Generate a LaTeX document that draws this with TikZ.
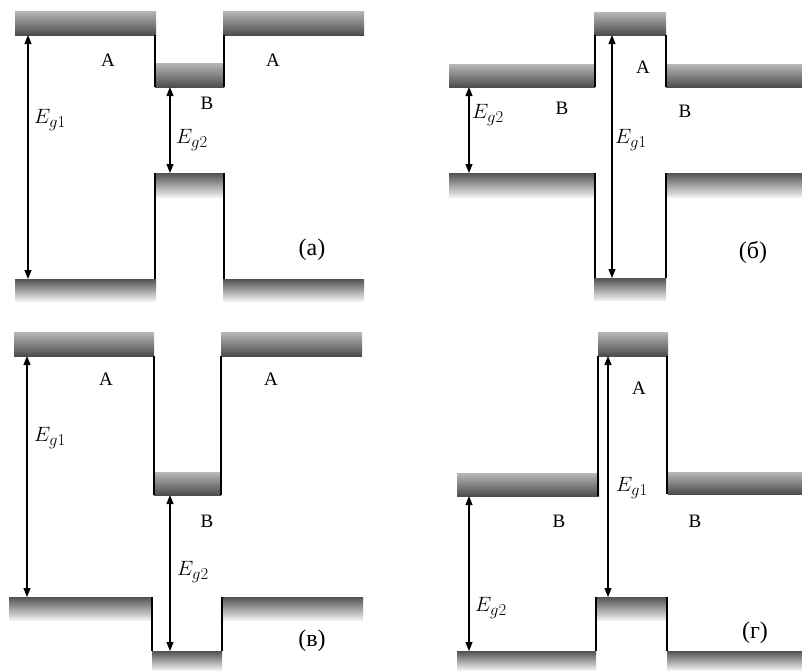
\documentclass[tikz,border=0pt]{standalone}
\usepackage{fontspec}
\setmainfont{Liberation Serif}
\usepackage{graphicx}
\usetikzlibrary{arrows.meta}
\newcommand{\egap}[1]{\scalebox{1.2}{$E_{\hbox{\scalebox{0.8}{$g#1$}}}$}}
\tikzset{
  cb/.style={top color=black!28, bottom color=black!70},
  vb/.style={top color=black!68, bottom color=black!6},
  wall/.style={line width=2pt},
  arr/.style={line width=1.1pt,{Triangle[length=9pt,width=7pt]}-{Triangle[length=9pt,width=7pt]}},
  lay/.style={inner sep=0pt,font=\fontsize{19}{21}\selectfont},
  eg/.style={inner sep=0pt,anchor=west,font=\fontsize{17.28}{20}\selectfont},
  tag/.style={inner sep=0pt,font=\fontsize{24}{26}\selectfont}
}
\begin{document}
\begin{tikzpicture}[x=1pt,y=-1pt]
\useasboundingbox[fill=white] (0,0) rectangle (802,670);
% ---------- (a)
\fill[cb] (15,11) rectangle (156,35);
\fill[cb] (223,11) rectangle (364,35);
\fill[cb] (155,63) rectangle (224,87);
\fill[vb] (155,173) rectangle (224,197);
\fill[vb] (15,279) rectangle (156,301);
\fill[vb] (223,279) rectangle (364,301);
\draw[wall] (155,35) -- (155,87) (224,35) -- (224,87);
\draw[wall] (155,173) -- (155,279) (224,173) -- (224,279);
\coordinate (a1t) at (28,35); \coordinate (a1b) at (28,279);
\coordinate (a2t) at (170,87); \coordinate (a2b) at (170,173);
\draw[arr] (a1t) -- (a1b);
\draw[arr] (a2t) -- (a2b);
\node[lay] (aA1) at (108,60) {A};
\node[lay] (aA2) at (273,60) {A};
\node[lay] (aB) at (207,103) {B};
\node[eg] (aE1) at (34,120) {\egap{1}};
\node[eg] (aE2) at (176,140) {\egap{2}};
\node[tag] (aT) at (312,250) {(а)};
% ---------- (б)
\fill[cb] (594,12) rectangle (666,35);
\fill[cb] (449,64) rectangle (595,87);
\fill[cb] (666,64) rectangle (802,87);
\fill[vb] (449,173) rectangle (595,197);
\fill[vb] (666,173) rectangle (802,197);
\fill[vb] (594,278) rectangle (666,300);
\draw[wall] (595,35) -- (595,87) (666,35) -- (666,87);
\draw[wall] (595,173) -- (595,278) (666,173) -- (666,278);
\coordinate (b1t) at (612,35); \coordinate (b1b) at (612,278);
\coordinate (b2t) at (469,87); \coordinate (b2b) at (469,173);
\draw[arr] (b1t) -- (b1b);
\draw[arr] (b2t) -- (b2b);
\node[lay] (bA) at (643,67) {A};
\node[lay] (bB1) at (562,108) {B};
\node[lay] (bB2) at (685,111) {B};
\node[eg] (bE1) at (615,140) {\egap{1}};
\node[eg] (bE2) at (472,115) {\egap{2}};
\node[tag] (bT) at (753,252) {(б)};
% ---------- (в)
\fill[cb] (14,332) rectangle (154,356);
\fill[cb] (221,332) rectangle (362,356);
\fill[cb] (154,472) rectangle (221,495);
\fill[vb] (9,597) rectangle (152,620);
\fill[vb] (222,597) rectangle (363,620);
\fill[vb] (152,651) rectangle (222,670);
\draw[wall] (154,356) -- (154,495) (221,356) -- (221,495);
\draw[wall] (152,597) -- (152,651) (222,597) -- (222,651);
\coordinate (c1t) at (27,356); \coordinate (c1b) at (27,597);
\coordinate (c2t) at (170,495); \coordinate (c2b) at (170,651);
\draw[arr] (c1t) -- (c1b);
\draw[arr] (c2t) -- (c2b);
\node[lay] (cA1) at (106,379) {A};
\node[lay] (cA2) at (271,379) {A};
\node[lay] (cB) at (207,521) {B};
\node[eg] (cE1) at (34,438) {\egap{1}};
\node[eg] (cE2) at (177,572) {\egap{2}};
\node[tag] (cT) at (312,641) {(в)};
% ---------- (г)
\fill[cb] (598,332) rectangle (668,356);
\fill[cb] (457,473) rectangle (599,496);
\fill[cb] (668,472) rectangle (802,494);
\fill[vb] (596,597) rectangle (667,620);
\fill[vb] (457,651) rectangle (596,670);
\fill[vb] (667,651) rectangle (802,670);
\draw[wall] (598,356) -- (598,496) (667,356) -- (667,494);
\draw[wall] (596,597) -- (596,651) (667,597) -- (667,651);
\coordinate (d1t) at (608,356); \coordinate (d1b) at (608,597);
\coordinate (d2t) at (469,496); \coordinate (d2b) at (469,651);
\draw[arr] (d1t) -- (d1b);
\draw[arr] (d2t) -- (d2b);
\node[lay] (dA) at (639,388) {A};
\node[lay] (dB1) at (559,521) {B};
\node[lay] (dB2) at (695,521) {B};
\node[eg] (dE1) at (616,488) {\egap{1}};
\node[eg] (dE2) at (475,608) {\egap{2}};
\node[tag] (dT) at (755,633) {(г)};
\end{tikzpicture}
\end{document}
